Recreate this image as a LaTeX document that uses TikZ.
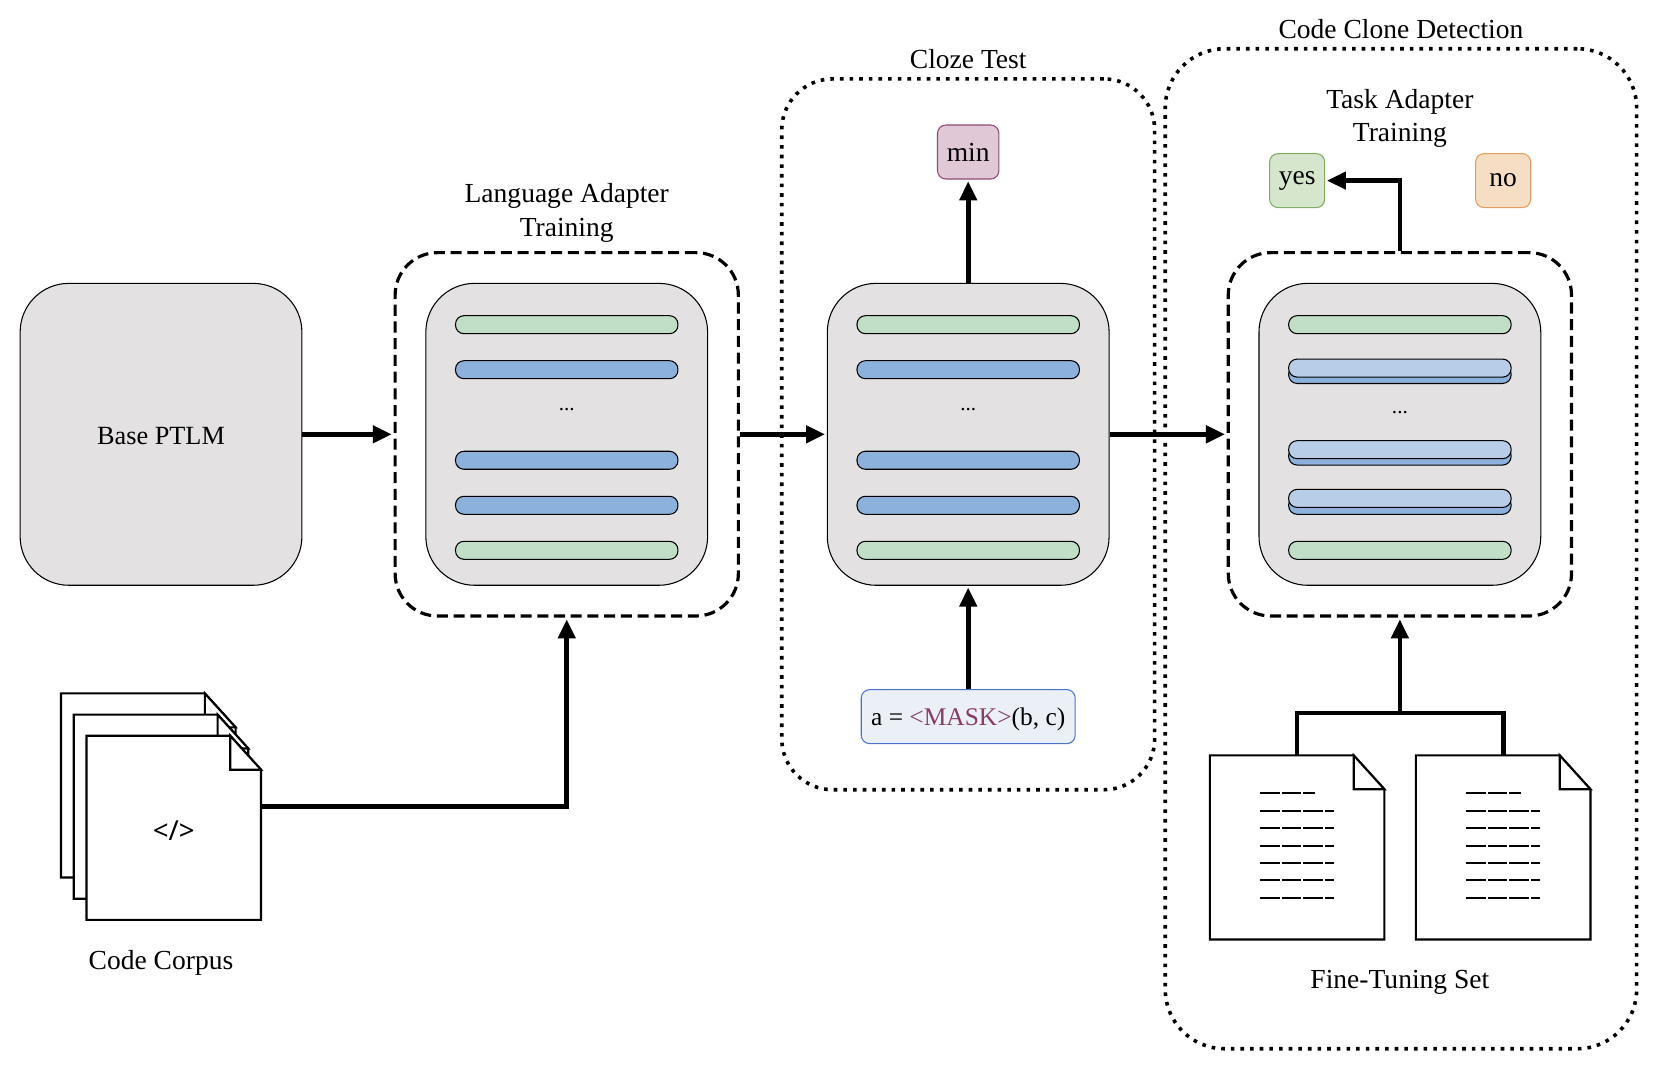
\documentclass[tikz,border=0pt]{standalone}
\usepackage{fontspec}
\setmainfont{Liberation Serif}
\newfontfamily\tagfont{Noto Sans}
\usetikzlibrary{positioning,calc,arrows.meta}
\definecolor{blockgray}{HTML}{E3E1E2}
\definecolor{layergreen}{HTML}{C1DFC6}
\definecolor{layerblue}{HTML}{8CB1DC}
\definecolor{layerlight}{HTML}{B8CEE8}
\definecolor{maskplum}{HTML}{8B3A66}
\definecolor{minfill}{HTML}{E1C8D6}
\definecolor{minline}{HTML}{8E4B73}
\definecolor{yesfill}{HTML}{D6E6CC}
\definecolor{yesline}{HTML}{7FAE62}
\definecolor{nofill}{HTML}{F6DEC4}
\definecolor{noline}{HTML}{E59D5C}
\definecolor{maskfill}{HTML}{EBF0F7}
\definecolor{maskline}{HTML}{4C72D0}

% one page with a folded corner
\newcommand{\docpage}[4]{%
  \node[docbox] (#1) at (#2,#3) {};
  \draw[docline,fill=white] (#1.north west) -- ($(#1.north east)+(-14.5pt,0)$) -- ($(#1.north east)+(0,-16pt)$)
    -- (#1.south east) -- (#1.south west) -- cycle;
  \draw[docline,fill=white] ($(#1.north east)+(-14.5pt,0)$) -- ($(#1.north east)+(-14.5pt,-16pt)$) -- ($(#1.north east)+(0,-16pt)$) -- cycle;
  \node[yshift=-1.5pt] (#1Text) at (#1.center) {#4};
}
\newcommand{\doclines}[1]{%
  \draw[textline] ($(#1.center)+(-17.5pt,25.5pt)$) -- +(26pt,0);
  \foreach \k in {17.3,9.1,0.9,-7.3,-15.5,-23.7}
    \draw[textline] ($(#1.center)+(-17.5pt,\k pt)$) -- +(35pt,0);
}

\begin{document}
\begin{tikzpicture}[x=0.5pt,y=-0.5pt]
	\tikzset{every node/.style={font=\fontsize{13}{15.6}\selectfont,align=center}}
	\tikzset{block/.style={draw,fill=blockgray,line width=0.5pt,rounded corners=23pt,minimum width=133pt,minimum height=142.5pt,inner sep=0pt}}
	\tikzset{adapterbox/.style={draw,line width=1.5pt,dash pattern=on 5.2pt off 2.7pt,rounded corners=20pt,minimum width=162pt,minimum height=171.5pt,inner sep=0pt}}
	\tikzset{taskbox/.style={draw,line width=1.7pt,dash pattern=on 1.7pt off 2.85pt,rounded corners=28pt,inner sep=0pt}}
	\tikzset{layer/.style={draw,line width=0.5pt,rounded corners=4pt,minimum width=105pt,minimum height=8.5pt,inner sep=0pt}}
	\tikzset{greenlayer/.style={layer,fill=layergreen}}
	\tikzset{bluelayer/.style={layer,fill=layerblue}}
	\tikzset{lightlayer/.style={layer,fill=layerlight}}
	\tikzset{flowarrow/.style={line width=2.2pt,-{Triangle[length=9pt,width=8pt]},shorten >=0.8pt}}
	\tikzset{docbox/.style={minimum width=82pt,minimum height=86.5pt,inner sep=0pt}}
	\tikzset{docline/.style={line width=1pt}}
	\tikzset{textline/.style={line width=0.9pt,dash pattern=on 9.2pt off 1pt}}
	\tikzset{answer/.style={draw,line width=0.5pt,rounded corners=4pt,minimum width=26pt,minimum height=25.5pt,inner sep=0pt}}
	\useasboundingbox (0,0) rectangle (1568,1005.4);

	\node[taskbox,minimum width=176pt,minimum height=335.5pt,rounded corners=24pt] (clozeTask) at (914,410) {};
	\node[taskbox,minimum width=222.5pt,minimum height=472pt] (cloneTask) at (1322.5,518) {};
	\node[above=0.5pt of clozeTask.north] (clozeTitle) {Cloze Test};
	\node[above=0.5pt of cloneTask.north] (cloneTitle) {Code Clone Detection};

	\node[block,font=\fontsize{12.4}{15}\selectfont,text height=9.5pt,text depth=-1pt] (base) at (152,410) {Base PTLM};
	\node[block] (langBlock) at (535,410) {};
	\node[block] (clozeBlock) at (914,410) {};
	\node[block] (cloneBlock) at (1321.5,410) {};
	\node[adapterbox] (langAdapter) at (535,410) {};
	\node[adapterbox] (cloneAdapter) at (1321.5,410) {};
	\node at (535,201) (langTitle) {Language Adapter\\Training};
	\node at (1321.5,112) (taskTitle) {Task Adapter\\Training};

	\foreach \bx/\nm in {535/lang,914/cloze}{
		\node[greenlayer] (\nm G1) at (\bx,306.5) {};
		\node[bluelayer] (\nm B1) at (\bx,349) {};
		\node[inner sep=0pt,font=\fontsize{10}{12}\selectfont] (\nm Dots) at (\bx,387) {...};
		\node[bluelayer] (\nm B2) at (\bx,434.5) {};
		\node[bluelayer] (\nm B3) at (\bx,477) {};
		\node[greenlayer] (\nm G2) at (\bx,519.5) {};
	}
	\node[greenlayer] (cloneG1) at (1321.5,306.5) {};
	\foreach \ya/\yb/\nm in {353.5/347.5/1,430.5/424.5/2,477/470.5/3}{
		\node[bluelayer] (cloneBack\nm) at (1321.5,\ya) {};
		\node[lightlayer] (cloneFront\nm) at (1321.5,\yb) {};
	}
	\node[inner sep=0pt,font=\fontsize{10}{12}\selectfont] (cloneDots) at (1321.5,389) {...};
	\node[greenlayer] (cloneG2) at (1321.5,519.5) {};

	\node[answer,draw=minline,fill=minfill,minimum width=29pt,text height=9pt,text depth=0pt] (minWord) at (914,143.5) {min};
	\node[answer,draw=yesline,fill=yesfill] (yesWord) at (1224.5,170.5) {\raisebox{2pt}{yes}};
	\node[answer,draw=noline,fill=nofill] (noWord) at (1419,170.5) {no};
	\node[draw=maskline,line width=0.5pt,fill=maskfill,rounded corners=4pt,minimum width=101pt,minimum height=25.5pt,inner sep=0pt,font=\fontsize{12}{14}\selectfont,text height=10.3pt,text depth=2pt] (maskLine) at (914,676.5) {a = \textcolor{maskplum}{<MASK>}(b, c)};

	\docpage{corpusA}{140}{741.5}{}
	\docpage{corpusB}{152}{761.5}{}
	\docpage{corpusC}{164}{781.5}{\tagfont\bfseries\fontsize{13}{15}\selectfont </>}
	\node at (152,909) (corpusLabel) {Code Corpus};

	\docpage{tuneL}{1224.5}{800}{}
	\docpage{tuneR}{1419}{800}{}
	\doclines{tuneL}
	\doclines{tuneR}
	\node at (1321.5,927) (tuneLabel) {Fine-Tuning Set};

	\coordinate (branch) at (1321.5,673);
	\coordinate (yesTurn) at (1321.5,170.5);

	\draw[flowarrow] (base) -- (langAdapter);
	\draw[flowarrow] (langAdapter) -- (clozeBlock);
	\draw[flowarrow] (clozeBlock) -- (cloneAdapter);
	\draw[flowarrow] (clozeBlock) -- (minWord);
	\draw[flowarrow] (maskLine) -- (clozeBlock);
	\draw[flowarrow] (cloneAdapter.north) -- (yesTurn) -- (yesWord);
	\draw[flowarrow] ([yshift=10pt]corpusC.east) -| (langAdapter.south);
	\draw[line width=2.2pt] (tuneL.north) |- (branch) -| (tuneR.north);
	\draw[flowarrow] (branch) -- (cloneAdapter.south);
\end{tikzpicture}
\end{document}
